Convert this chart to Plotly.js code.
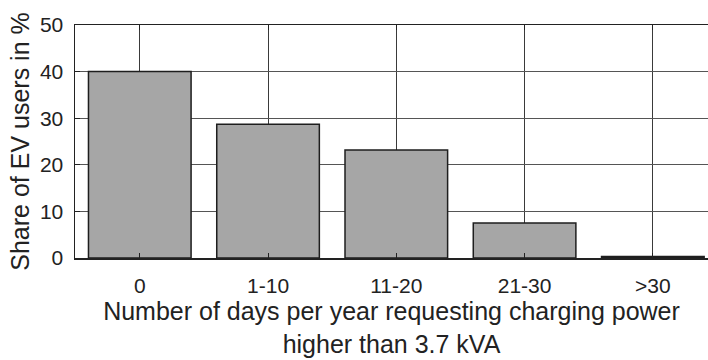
<!DOCTYPE html>
<html>
<head>
<meta charset="utf-8">
<script src="https://cdn.plot.ly/plotly-3.0.1.min.js"></script>
<style>
  html, body { margin: 0; padding: 0; background: #fff; }
  #chart { width: 708px; height: 360px; }
</style>
</head>
<body>
<div id="chart"></div>
<script>
// Days per year on which more than 3.7 kVA of charging power is requested
const categories = ['0', '1-10', '11-20', '21-30', '>30'];
// Share of EV users per category, in %
const shares = [40, 28.7, 23.2, 7.5, 0.3];
const yTicks = [0, 10, 20, 30, 40, 50];

const family = 'Liberation Sans, Arial, sans-serif';
const tickFont = { family: family, size: 21, color: '#222' };
const titleFont = { family: family, size: 25, color: '#222' };

const trace = {
  type: 'bar',
  x: categories.map((_, i) => i),
  y: shares,
  width: 0.8,
  marker: { color: '#a6a6a6', line: { color: '#1e1e1e', width: 1.5 } },
  hoverinfo: 'skip'
};

const layout = {
  width: 708,
  height: 360,
  margin: { l: 75, r: 0, t: 25, b: 102 },
  paper_bgcolor: '#fff',
  plot_bgcolor: '#fff',
  font: tickFont,
  showlegend: false,
  xaxis: {
    range: [-0.505, 4.43],
    tickvals: categories.map((_, i) => i),
    ticktext: categories,
    showgrid: true,
    gridcolor: '#3a3a3a',
    gridwidth: 1,
    showline: true,
    linecolor: '#222',
    linewidth: 1.5,
    mirror: 'ticks',
    ticks: 'inside',
    ticklen: 5,
    tickcolor: '#222',
    zeroline: false,
    tickfont: tickFont,
    ticklabelstandoff: 8,
    automargin: false,
    title: {
      text: 'Number of days per year requesting charging power<br>higher than 3.7 kVA',
      font: titleFont,
      standoff: 7
    }
  },
  yaxis: {
    range: [0, 50],
    tickvals: yTicks,
    ticktext: yTicks.map(String),
    showgrid: true,
    gridcolor: '#555',
    gridwidth: 1,
    showline: true,
    linecolor: '#222',
    linewidth: 1.5,
    ticks: 'inside',
    ticklen: 5,
    tickcolor: '#222',
    zeroline: false,
    tickfont: tickFont,
    ticklabelstandoff: 6,
    automargin: false,
    title: {
      text: 'Share of EV users in %',
      font: titleFont,
      standoff: 3
    }
  }
};

Plotly.newPlot('chart', [trace], layout, { staticPlot: true, displayModeBar: false });
</script>
</body>
</html>
